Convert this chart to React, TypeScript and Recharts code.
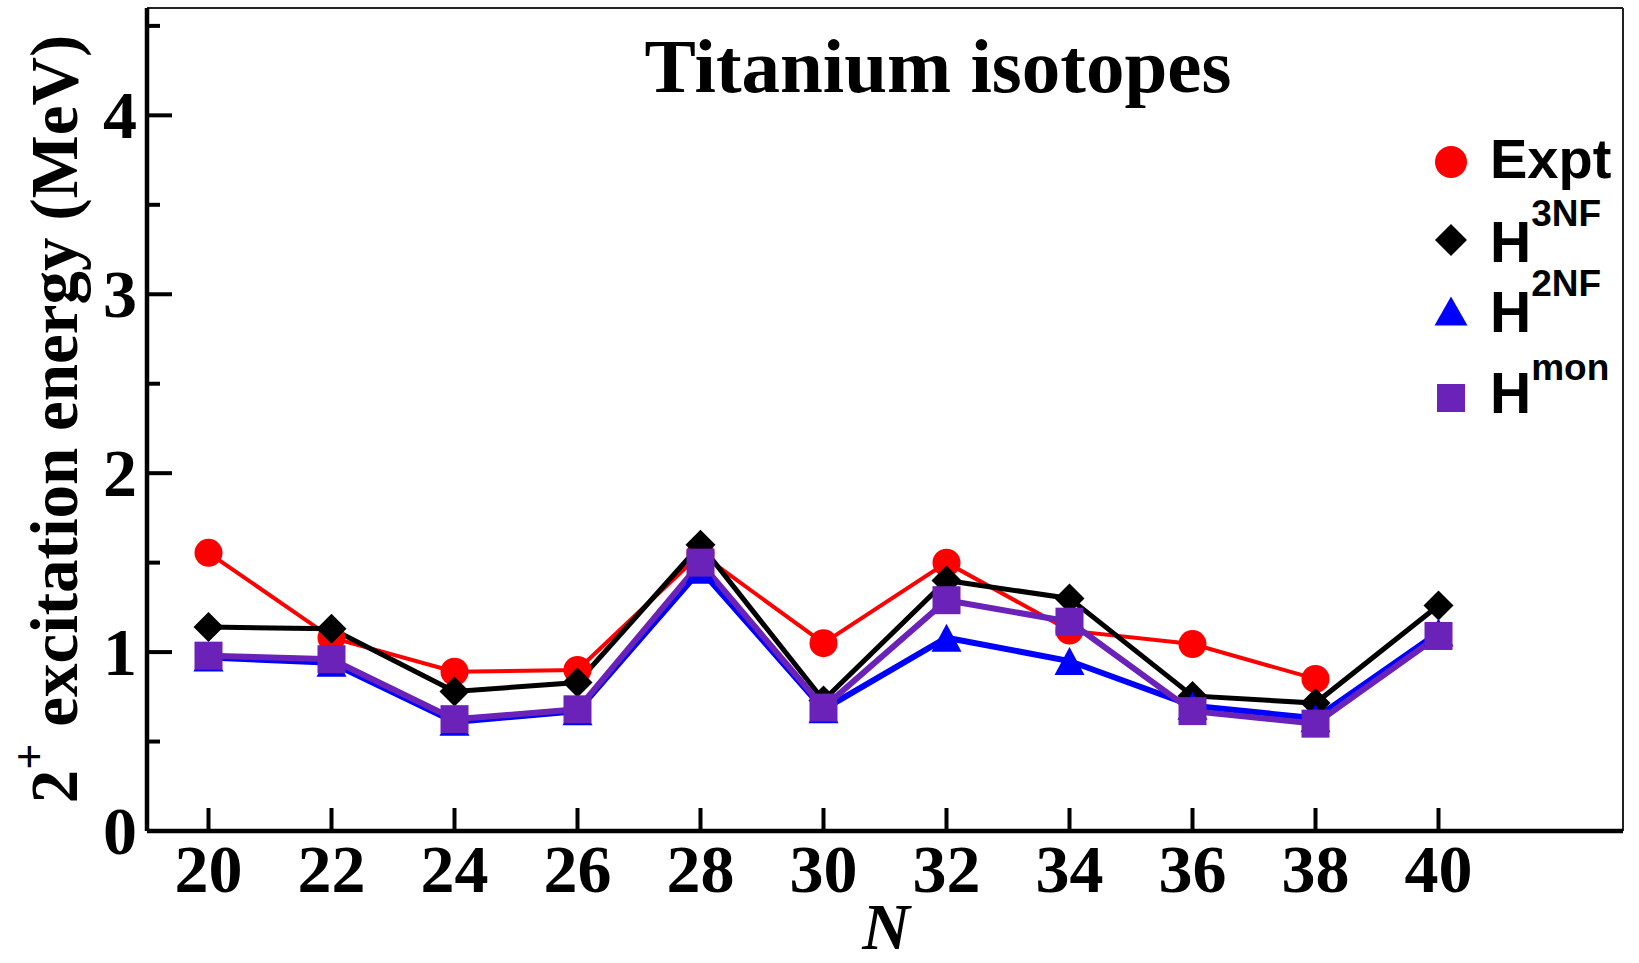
import React from 'react';
import { LineChart, Line, XAxis, YAxis, ReferenceLine, Customized } from 'recharts';

const neutronNumbers = [20, 22, 24, 26, 28, 30, 32, 34, 36, 38, 40];
const exptValues = [1.555, 1.08, 0.89, 0.9, 1.55, 1.05, 1.5, 1.12, 1.045, 0.85, null];
const h3nfValues = [1.14, 1.13, 0.78, 0.83, 1.6, 0.73, 1.4, 1.3, 0.755, 0.715, 1.26];
const h2nfValues = [0.97, 0.94, 0.61, 0.67, 1.46, 0.68, 1.08, 0.95, 0.7, 0.63, 1.11];
const hmonValues = [0.98, 0.96, 0.625, 0.68, 1.5, 0.69, 1.29, 1.17, 0.67, 0.6, 1.09];
const xTicks = [20, 22, 24, 26, 28, 30, 32, 34, 36, 38, 40];
const yTicks = [0, 0.5, 1, 1.5, 2, 2.5, 3, 3.5, 4, 4.5];
const yMajorLabels = [0, 1, 2, 3, 4];

const RED = '#ff0000';
const BLACK = '#000000';
const BLUE = '#0000ff';
const PURPLE = '#6b22b8';
const SERIF = '"Liberation Serif", "Times New Roman", serif';
const SANS = '"Liberation Sans", Arial, sans-serif';

const data = neutronNumbers.map((n, i) => ({
  n,
  expt: exptValues[i],
  h3nf: h3nfValues[i],
  h2nf: h2nfValues[i],
  hmon: hmonValues[i],
}));

const circleShape = (cx: number, cy: number, r: number, key?: any) => (
  <circle key={key} cx={cx} cy={cy} r={r} fill={RED} />
);
const diamondShape = (cx: number, cy: number, r: number, key?: any) => (
  <polygon key={key} points={`${cx},${cy - r} ${cx + r},${cy} ${cx},${cy + r} ${cx - r},${cy}`} fill={BLACK} />
);
const triangleShape = (cx: number, cy: number, w: number, h: number, key?: any) => (
  <polygon key={key} points={`${cx},${cy - h / 2} ${cx + w / 2},${cy + h / 2} ${cx - w / 2},${cy + h / 2}`} fill={BLUE} />
);
const squareShape = (cx: number, cy: number, s: number, key?: any) => (
  <rect key={key} x={cx - s / 2} y={cy - s / 2} width={s} height={s} fill={PURPLE} />
);

const valid = (p: any) => p && p.cx != null && p.cy != null && p.value != null && !Number.isNaN(p.cy);

const RedDot = (p: any) => (valid(p) ? circleShape(p.cx, p.cy, 14, p.index) : <g key={p.index} />);
const BlackDot = (p: any) => (valid(p) ? diamondShape(p.cx, p.cy, 15, p.index) : <g key={p.index} />);
const BlueDot = (p: any) => (valid(p) ? triangleShape(p.cx, p.cy, 30, 28, p.index) : <g key={p.index} />);
const PurpleDot = (p: any) => (valid(p) ? squareShape(p.cx, p.cy, 28, p.index) : <g key={p.index} />);

const XTick = (props: any) => {
  const { x, y, payload } = props;
  return (
    <g>
      <line x1={x} y1={y} x2={x} y2={y - 23} stroke={BLACK} strokeWidth={4} />
      <text x={x} y={y + 61} textAnchor="middle" fontFamily={SERIF} fontWeight="bold" fontSize={68} fill={BLACK}>
        {payload.value}
      </text>
    </g>
  );
};

const YTick = (props: any) => {
  const { x, y, payload } = props;
  const major = yMajorLabels.includes(payload.value);
  return (
    <g>
      <line x1={x} y1={y} x2={x + (major ? 25 : 13)} y2={y} stroke={BLACK} strokeWidth={4} />
      {major && (
        <text x={x - 10} y={y + 23} textAnchor="end" fontFamily={SERIF} fontWeight="bold" fontSize={68} fill={BLACK}>
          {payload.value}
        </text>
      )}
    </g>
  );
};

const Decorations = () => (
  <g>
    <text x={938} y={92} textAnchor="middle" fontFamily={SERIF} fontWeight="bold" fontSize={77} fill={BLACK}>
      Titanium isotopes
    </text>
    <text x={886} y={949} textAnchor="middle" fontFamily={SERIF} fontWeight="bold" fontStyle="italic" fontSize={66} fill={BLACK}>
      N
    </text>
    <text
      x={77}
      y={419}
      transform="rotate(-90, 77, 419)"
      textAnchor="middle"
      fontFamily={SERIF}
      fontWeight="bold"
      fontSize={67}
      fill={BLACK}
    >
      <tspan>2</tspan>
      <tspan dy={-32} fontSize={46}>+</tspan>
      <tspan dy={32}>{' excitation energy  (MeV)'}</tspan>
    </text>
    {/* Legend */}
    {circleShape(1451, 162, 16)}
    <text x={1490} y={178} fontFamily={SANS} fontWeight="bold" fontSize={56} fill={BLACK}>Expt</text>
    {diamondShape(1451, 240, 16)}
    <text x={1490} y={262} fontFamily={SANS} fontWeight="bold" fontSize={57} fill={BLACK}>
      H<tspan dy={-36} fontSize={37}>3NF</tspan>
    </text>
    {triangleShape(1451, 311, 33, 29)}
    <text x={1490} y={332} fontFamily={SANS} fontWeight="bold" fontSize={57} fill={BLACK}>
      H<tspan dy={-36} fontSize={37}>2NF</tspan>
    </text>
    {squareShape(1451, 398, 28)}
    <text x={1490} y={413} fontFamily={SANS} fontWeight="bold" fontSize={57} fill={BLACK}>
      H<tspan dy={-33} fontSize={37}>mon</tspan>
    </text>
  </g>
);

export default function App() {
  return (
    <div style={{ position: 'absolute', left: 0, top: 0, width: 1639, height: 963, background: '#fff' }}>
      <LineChart width={1639} height={963} data={data} margin={{ top: 8, right: 16, left: 0, bottom: 0 }}>
        <XAxis
          dataKey="n"
          type="number"
          domain={[19, 43]}
          ticks={xTicks}
          interval={0}
          height={132}
          tickSize={0}
          tickMargin={0}
          tickLine={false}
          axisLine={{ stroke: BLACK, strokeWidth: 4.5 }}
          tick={<XTick />}
          allowDataOverflow
        />
        <YAxis
          type="number"
          domain={[0, 4.6]}
          ticks={yTicks}
          interval={0}
          width={147}
          tickSize={0}
          tickMargin={0}
          tickLine={false}
          axisLine={{ stroke: BLACK, strokeWidth: 4.5 }}
          tick={<YTick />}
          allowDataOverflow
        />
        <ReferenceLine y={4.6} stroke="#222" strokeWidth={2} ifOverflow="extendDomain" />
        <ReferenceLine x={43} stroke="#222" strokeWidth={2} ifOverflow="extendDomain" />
        <Line dataKey="expt" type="linear" stroke={RED} strokeWidth={4} dot={RedDot} activeDot={false} isAnimationActive={false} connectNulls={false} />
        <Line dataKey="h3nf" type="linear" stroke={BLACK} strokeWidth={5} dot={BlackDot} activeDot={false} isAnimationActive={false} />
        <Line dataKey="h2nf" type="linear" stroke={BLUE} strokeWidth={6} dot={BlueDot} activeDot={false} isAnimationActive={false} />
        <Line dataKey="hmon" type="linear" stroke={PURPLE} strokeWidth={6} dot={PurpleDot} activeDot={false} isAnimationActive={false} />
        <Customized component={Decorations} />
      </LineChart>
    </div>
  );
}
